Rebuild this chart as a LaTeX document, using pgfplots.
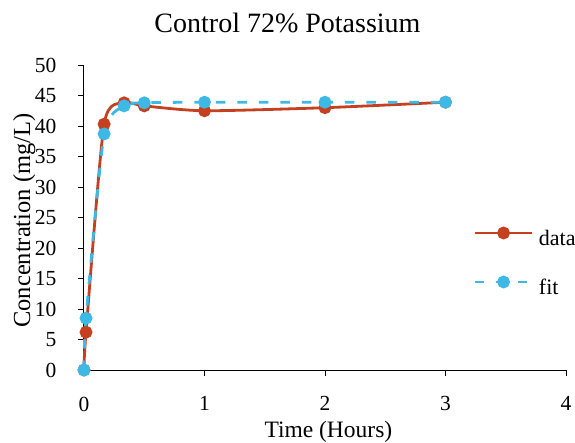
\documentclass[border=0pt]{standalone}
\usepackage{pgfplots}
\pgfplotsset{compat=1.18}
\usepackage{fontspec}
\setmainfont{Liberation Serif}
\definecolor{dataC}{RGB}{197,64,30}
\definecolor{fitC}{RGB}{62,185,230}
\begin{document}
\begin{tikzpicture}
\begin{axis}[
  scale only axis,
  width=482pt, height=305pt,
  xmin=0, xmax=4, ymin=0, ymax=50,
  xtick={0,1,2,3,4}, ytick={0,5,...,50},
  axis x line*=bottom, axis y line*=left,
  axis line style={black, line width=1pt},
  tick style={black, line width=1pt},
  tick align=outside, major tick length=5.5pt,
  ticklabel style={font=\fontsize{21.5}{21.5}\selectfont, inner sep=0pt},
  xticklabel style={anchor=north, yshift=-21pt},
  yticklabel style={anchor=east, xshift=-22pt},
  /pgf/number format/assume math mode=true,
  xlabel={Time (Hours)}, ylabel={Concentration (mg/L)},
  every axis x label/.style={at={(axis description cs:0.507,0)}, anchor=base, yshift=-67pt, font=\fontsize{23.5}{23.5}\selectfont, inner sep=0pt},
  every axis y label/.style={at={(axis description cs:-0.112,0.49)}, rotate=90, anchor=base, font=\fontsize{24.5}{24.5}\selectfont, inner sep=0pt},
  title={Control 72\% Potassium},
  every axis title/.style={at={(axis description cs:0.4222,1)}, anchor=base, yshift=33pt, font=\fontsize{28}{28}\selectfont, inner sep=0pt},
  legend style={draw=none, fill=none, inner sep=0pt, at={(axis description cs:0.807,0.3476)}, anchor=west,
    font=\fontsize{22}{22}\selectfont, row sep=26pt, column sep=6pt,
    nodes={inner sep=0pt, text height=16pt, text depth=5pt}},
  legend cell align=left,
  legend image code/.code={
    \draw[#1, mark=none] (0pt,7.5pt) -- (57pt,7.5pt);
    \draw[#1, only marks, solid] plot coordinates {(29pt,7.5pt)};
  },
  clip=false,
]
\addplot[dataC, line width=2.8pt, smooth, tension=0.4, mark=*, mark size=5pt, mark options={solid}]
  coordinates {(0,0) (0.0167,6.2) (0.167,40.3) (0.333,43.8) (0.5,43.3) (1,42.5) (2,43.0) (3,43.9)};
\addlegendentry{data}
\addplot[fitC, line width=2.8pt, dash pattern=on 9.5pt off 12pt, smooth, tension=0.4, mark=*, mark size=5pt, mark options={solid}]
  coordinates {(0,0) (0.0167,8.5) (0.167,38.7) (0.333,43.3) (0.5,43.8) (1,43.9) (2,43.9) (3,43.9)};
\addlegendentry{fit}
\end{axis}
\pgfresetboundingbox
\useasboundingbox (-84pt,-72pt) rectangle (491pt,370pt);
\end{tikzpicture}
\end{document}
